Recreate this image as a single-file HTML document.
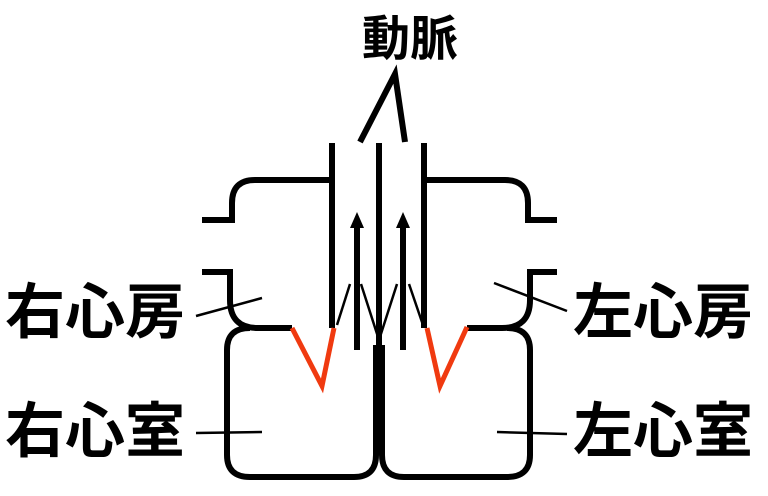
<!DOCTYPE html>
<html><head><meta charset="utf-8"><style>
html,body{margin:0;padding:0;background:#fff;}
svg{display:block}
text{font-family:"Liberation Sans","Noto Sans CJK JP",sans-serif;font-weight:bold;fill:#000}
</style></head><body>
<svg width="768" height="496" viewBox="0 0 768 496" xmlns="http://www.w3.org/2000/svg">
<text x="410" y="55" font-size="48" text-anchor="middle">動脈</text>
<text x="5" y="333" font-size="60">右心房</text>
<text x="5" y="452" font-size="60">右心室</text>
<text x="573" y="333" font-size="60">左心房</text>
<text x="573" y="452" font-size="60">左心室</text>
<g fill="none" stroke="#000" stroke-width="6" stroke-linecap="butt">
<polyline points="360,142 395,74 405,142"/>
<line x1="332" y1="143" x2="332" y2="328"/>
<line x1="379" y1="143" x2="379" y2="345"/>
<line x1="424" y1="143" x2="424" y2="328"/>
<path d="M332,180 H255 Q232,180 232,203 V220 H202"/>
<path d="M202,272 H230 V300 Q230,328 258,328 H292"/>
<path d="M424,180 H505 Q528,180 528,203 V220 H557"/>
<path d="M557,272 H530 V300 Q530,328 502,328 H467"/>
<path d="M376,345 V455 Q376,477 354,477 H250 Q227,477 227,455 V350 Q227,328 250,328"/>
<path d="M382,345 V455 Q382,477 404,477 H507 Q530,477 530,455 V350 Q530,328 507,328"/>
<line x1="357" y1="350" x2="357" y2="225"/>
<line x1="403" y1="350" x2="403" y2="225"/>
</g>
<polygon points="357,212 350,228 364,228" fill="#000"/>
<polygon points="403,212 396,228 410,228" fill="#000"/>
<g stroke="#000" stroke-width="2.5" fill="none">
<line x1="337" y1="325" x2="350" y2="284"/>
<polyline points="361,284 379,340 397,284"/>
<line x1="409" y1="284" x2="423" y2="325"/>
<line x1="196" y1="316" x2="262" y2="298"/>
<line x1="196" y1="433" x2="262" y2="432"/>
<line x1="494" y1="283" x2="567" y2="311"/>
<line x1="497" y1="432" x2="567" y2="434"/>
</g>
<g stroke="#f03a10" stroke-width="5" fill="none">
<polyline points="292,328 322,386 334,328"/>
<polyline points="427,328 440,386 467,327"/>
</g>
</svg>
</body></html>
